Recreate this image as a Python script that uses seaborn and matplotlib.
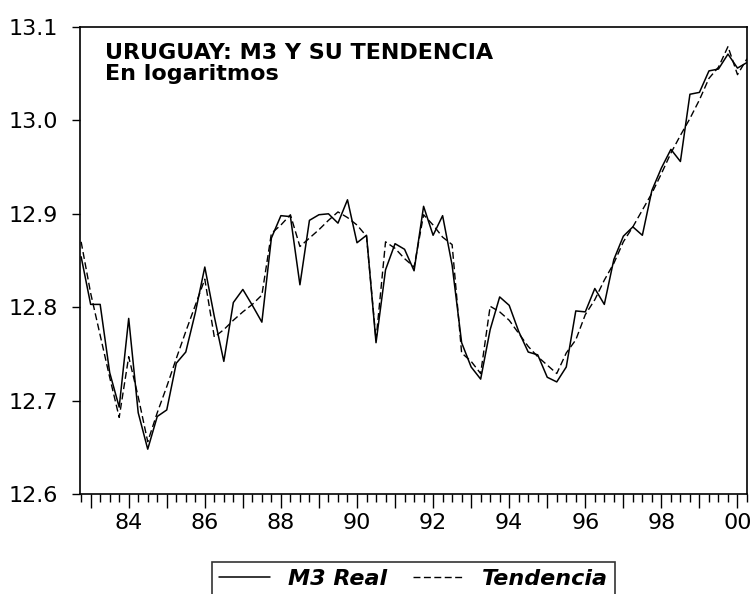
import numpy as np
import pandas as pd
import seaborn as sn
import matplotlib.pyplot as plt
from matplotlib.ticker import MultipleLocator, FixedLocator

# quarterly sample 1982Q4 - 2000Q2
quarters = pd.period_range("1982Q4", "2000Q2", freq="Q")

m3_real = [12.854, 12.803, 12.803, 12.730, 12.693, 12.788, 12.687, 12.648, 12.683,
           12.690, 12.740, 12.752, 12.794, 12.843, 12.790, 12.742, 12.805, 12.819,
           12.802, 12.784, 12.874, 12.898, 12.897, 12.824, 12.893, 12.899, 12.900,
           12.890, 12.915, 12.869, 12.877, 12.762, 12.840, 12.868, 12.862, 12.839,
           12.908, 12.877, 12.898, 12.845, 12.762, 12.736, 12.723, 12.776, 12.811,
           12.802, 12.774, 12.752, 12.749, 12.725, 12.720, 12.736, 12.796, 12.795,
           12.820, 12.803, 12.851, 12.876, 12.886, 12.877, 12.925, 12.949, 12.969,
           12.956, 13.028, 13.030, 13.053, 13.055, 13.071, 13.056, 13.062]

tendencia = [12.870, 12.815, 12.770, 12.725, 12.682, 12.747, 12.704, 12.656, 12.687,
             12.715, 12.745, 12.774, 12.802, 12.830, 12.768, 12.776, 12.786, 12.795,
             12.803, 12.813, 12.879, 12.888, 12.899, 12.865, 12.874, 12.883, 12.893,
             12.902, 12.896, 12.888, 12.876, 12.765, 12.870, 12.863, 12.852, 12.843,
             12.899, 12.888, 12.875, 12.867, 12.751, 12.742, 12.729, 12.801, 12.795,
             12.786, 12.772, 12.758, 12.747, 12.738, 12.729, 12.751, 12.765, 12.792,
             12.808, 12.829, 12.847, 12.870, 12.886, 12.904, 12.922, 12.943, 12.965,
             12.984, 13.002, 13.022, 13.045, 13.057, 13.079, 13.049, 13.066]

year_ticks = list(range(1983, 2001))
year_labels = [str(y)[2:] if y % 2 == 0 else "" for y in year_ticks]
y_ticks = [12.6, 12.7, 12.8, 12.9, 13.0, 13.1]

df = pd.DataFrame({
    "t": quarters.year + (quarters.quarter - 1) / 4.0,
    "M3 Real": m3_real,
    "Tendencia": tendencia,
})

sn.set_style("white")
plt.rcParams["font.family"] = ["DejaVu Sans"]
plt.rcParams["text.color"] = "black"
plt.rcParams["xtick.color"] = "black"
plt.rcParams["ytick.color"] = "black"

fig = plt.figure(figsize=(7.51, 5.94), dpi=100)
ax = fig.add_axes([80 / 751, 1 - 494 / 594, 667 / 751, 467 / 594])

sn.lineplot(data=df, x="t", y="M3 Real", ax=ax, color="black", linewidth=1.1,
            label="M3 Real")
sn.lineplot(data=df, x="t", y="Tendencia", ax=ax, color="black", linewidth=1.0,
            linestyle=(0, (5, 2.5)), label="Tendencia")

ax.set_xlim(1982.72, 2000.25)
ax.set_ylim(12.6, 13.1)
ax.set_xlabel("")
ax.set_ylabel("")

ax.xaxis.set_major_locator(FixedLocator(year_ticks))
ax.set_xticklabels(year_labels)
ax.xaxis.set_minor_locator(MultipleLocator(0.25))
ax.set_yticks(y_ticks)
ax.set_yticklabels(["%.1f" % v for v in y_ticks])

ax.tick_params(axis="x", which="major", direction="out", length=10, width=1,
               color="black", labelcolor="black", labelsize=16, pad=4, bottom=True)
ax.tick_params(axis="x", which="minor", direction="out", length=5.8, width=1,
               color="black", bottom=True)
ax.tick_params(axis="y", which="major", direction="out", length=5.8, width=1,
               color="black", labelcolor="black", labelsize=16, pad=10, left=True)

for s in ax.spines.values():
    s.set_visible(True)
    s.set_color("black")
    s.set_linewidth(1.2)

ax.text(0.0375, 0.931, "URUGUAY: M3 Y SU TENDENCIA", transform=ax.transAxes,
        fontsize=16, fontweight="bold", va="baseline", ha="left", color="black")
ax.text(0.0375, 0.8865, "En logaritmos", transform=ax.transAxes,
        fontsize=16, fontweight="bold", va="baseline", ha="left", color="black")

leg = ax.legend(loc="upper center", bbox_to_anchor=(413.5 / 751, 1 - 562 / 594),
                bbox_transform=fig.transFigure, borderaxespad=0, ncol=2,
                frameon=True, fancybox=False, edgecolor="black", handlelength=2.3,
                columnspacing=1.2, borderpad=0.3,
                prop={"size": 16, "weight": "bold", "style": "italic"})
leg.get_frame().set_linewidth(1.2)
for txt in leg.get_texts():
    txt.set_color("black")

fig.savefig("out.png", dpi=100)
